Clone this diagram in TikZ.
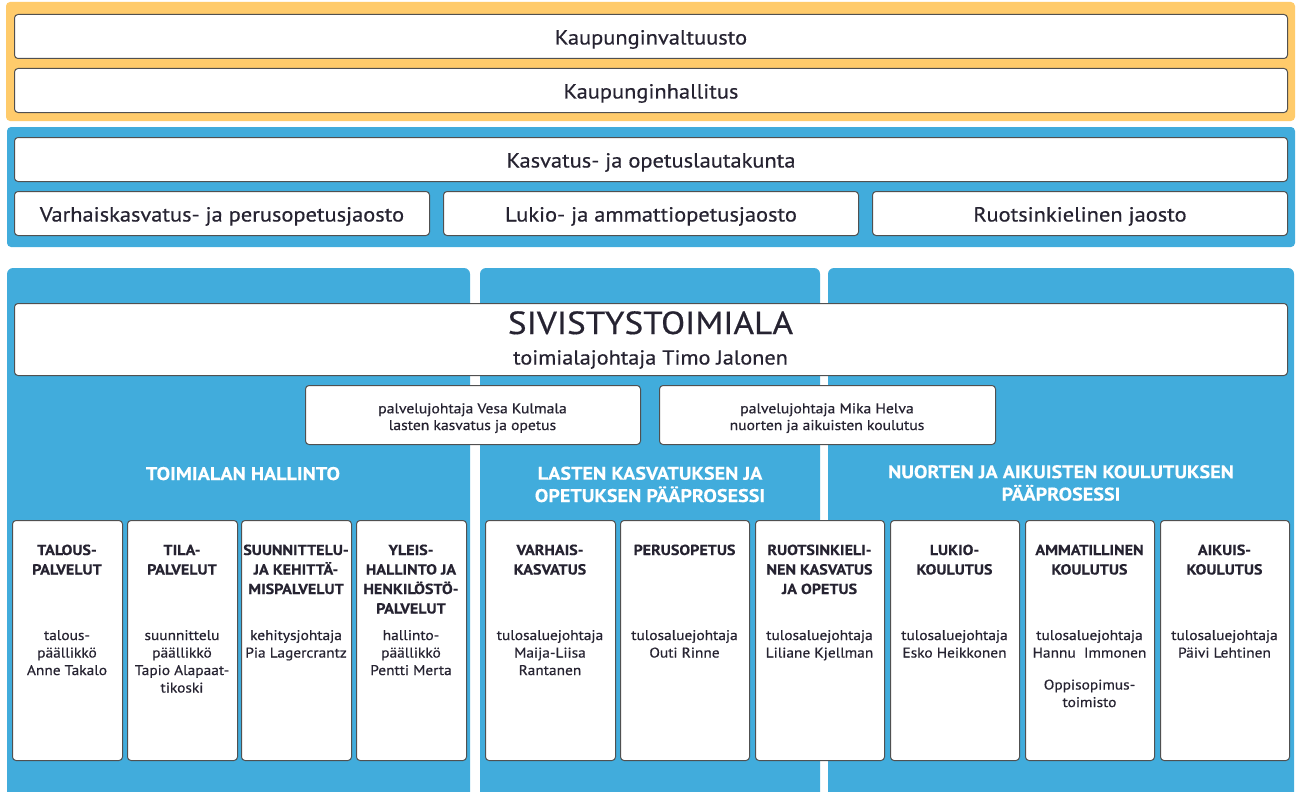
\documentclass[tikz,border=0pt]{standalone}
\usepackage{fontspec}
\setmainfont[FakeStretch=1.1,UprightFeatures={FakeBold=0.5},BoldFeatures={FakeBold=0.3}]{PT Sans}
\definecolor{orng}{HTML}{FFCB6B}
\definecolor{blu}{HTML}{41ACDC}
\definecolor{txt}{HTML}{262331}
\definecolor{brd}{HTML}{505050}
\begin{document}
\begin{tikzpicture}[x=1pt,y=-1pt,
  wbox/.style={draw=brd,fill=white,line width=1pt,rounded corners=3.5pt,inner sep=0pt,anchor=north west},
  wide/.style={wbox,minimum height=44,text height=16,text depth=0pt,text=txt,font=\fontsize{20.4}{24}\selectfont},
  pjbox/.style={wbox,minimum height=59},
  pjtxt/.style={anchor=base,inner sep=0pt,align=center,text=txt,font=\fontsize{14.2}{16.7}\selectfont},
  head/.style={anchor=base,inner sep=0pt,align=center,text=white,font=\bfseries\fontsize{18.3}{22.3}\selectfont},
  card/.style={wbox,minimum width=110,minimum height=240},
  ctitle/.style={anchor=base,inner sep=0pt,align=center,text=txt,font=\bfseries\fontsize{14.6}{19.5}\selectfont},
  cbody/.style={anchor=base,inner sep=0pt,align=center,text=txt,font=\fontsize{14}{17.5}\selectfont}
]
\useasboundingbox (0,0) rectangle (1299,792);
\clip (0,0) rectangle (1299,792);
% background panels
\fill[orng,rounded corners=4] (6,2) rectangle (1295,121);
\fill[blu,rounded corners=4] (7,127) rectangle (1295,247);
\fill[blu,rounded corners=6] (7,268) rectangle (470,800);
\fill[blu,rounded corners=6] (480,268) rectangle (820,800);
\fill[blu,rounded corners=6] (828,268) rectangle (1294,800);
% council and board
\node[wide,minimum width=1273] (kv) at (14,14) {Kaupunginvaltuusto};
\node[wide,minimum width=1273] (kh) at (14,68) {Kaupunginhallitus};
\node[wide,minimum width=1273] (kol) at (14,137) {Kasvatus- ja opetuslautakunta};
\node[wide,minimum width=415] (j1) at (14,191) {Varhaiskasvatus- ja perusopetusjaosto};
\node[wide,minimum width=415] (j2) at (443,191) {Lukio- ja ammattiopetusjaosto};
\node[wide,minimum width=415] (j3) at (872,191) {Ruotsinkielinen jaosto};
% sivistystoimiala
\node[wbox,minimum width=1273,minimum height=72] (siv) at (14,303) {};
\node[anchor=base,inner sep=0pt,text=txt,font=\fontsize{32}{36}\selectfont] (sivt) at (650.5,334) {SIVISTYSTOIMIALA};
\node[anchor=base,inner sep=0pt,text=txt,font=\fontsize{20.2}{24}\selectfont] (tj) at (650.5,364.5) {toimialajohtaja Timo Jalonen};
% palvelujohtajat
\node[pjbox,minimum width=335] (pj1) at (305,385) {};
\node[pjtxt] (pj1t) at (472.5,430) {palvelujohtaja Vesa Kulmala\\lasten kasvatus ja opetus};
\node[pjbox,minimum width=336] (pj2) at (659,385) {};
\node[pjtxt] (pj2t) at (827,430) {palvelujohtaja Mika Helva\\nuorten ja aikuisten koulutus};
% headings
\node[head] (h1) at (243,480) {TOIMIALAN HALLINTO};
\node[head] (h2) at (650,502) {LASTEN KASVATUKSEN JA\\OPETUKSEN PÄÄPROSESSI};
\node[head] (h3) at (1061,500.5) {NUORTEN JA AIKUISTEN KOULUTUKSEN\\PÄÄPROSESSI};
% cards
\node[card] (c1) at (12,520) {};
\node[card] (c2) at (127,520) {};
\node[card] (c3) at (241,520) {};
\node[card] (c4) at (356,520) {};
\node[card,minimum width=130] (c5) at (485,520) {};
\node[card,minimum width=129] (c6) at (620,520) {};
\node[card,minimum width=129] (c7) at (755,520) {};
\node[card,minimum width=129] (c8) at (890,520) {};
\node[card,minimum width=129] (c9) at (1025,520) {};
\node[card,minimum width=129] (c10) at (1160,520) {};
% card titles (anchor = baseline of last line)
\node[ctitle] (t1) at (67,574.5) {TALOUS-\\PALVELUT};
\node[ctitle] (t2) at (182,574.5) {TILA-\\PALVELUT};
\node[ctitle] (t3) at (296,594) {SUUNNITTELU-\\JA KEHITTÄ-\\MISPALVELUT};
\node[ctitle] (t4) at (411,613.5) {YLEIS-\\HALLINTO JA\\HENKILÖSTÖ-\\PALVELUT};
\node[ctitle] (t5) at (550,574.5) {VARHAIS-\\KASVATUS};
\node[ctitle] (t6) at (684.5,555) {PERUSOPETUS};
\node[ctitle] (t7) at (819.5,594) {RUOTSINKIELI-\\NEN KASVATUS\\JA OPETUS};
\node[ctitle] (t8) at (954.5,574.5) {LUKIO-\\KOULUTUS};
\node[ctitle] (t9) at (1089.5,574.5) {AMMATILLINEN\\KOULUTUS};
\node[ctitle] (t10) at (1224.5,574.5) {AIKUIS-\\KOULUTUS};
% card bodies (anchor = baseline of last line)
\node[cbody] (b1) at (67,675) {talous-\\päällikkö\\Anne Takalo};
\node[cbody] (b2) at (182,692.5) {suunnittelu\\päällikkö\\Tapio Alapaat-\\tikoski};
\node[cbody] (b3) at (296,657.5) {kehitysjohtaja\\Pia Lagercrantz};
\node[cbody] (b4) at (411,675) {hallinto-\\päällikkö\\Pentti Merta};
\node[cbody] (b5) at (550,675) {tulosaluejohtaja\\Maija-Liisa\\Rantanen};
\node[cbody] (b6) at (684.5,657.5) {tulosaluejohtaja\\Outi Rinne};
\node[cbody] (b7) at (819.5,657.5) {tulosaluejohtaja\\Liliane Kjellman};
\node[cbody] (b8) at (954.5,657.5) {tulosaluejohtaja\\Esko Heikkonen};
\node[cbody] (b9) at (1089.5,657.5) {tulosaluejohtaja\\Hannu\ \ Immonen};
\node[cbody] (b9b) at (1089.5,707) {Oppisopimus-\\toimisto};
\node[cbody] (b10) at (1224.5,657.5) {tulosaluejohtaja\\Päivi Lehtinen};
\end{tikzpicture}
\end{document}
